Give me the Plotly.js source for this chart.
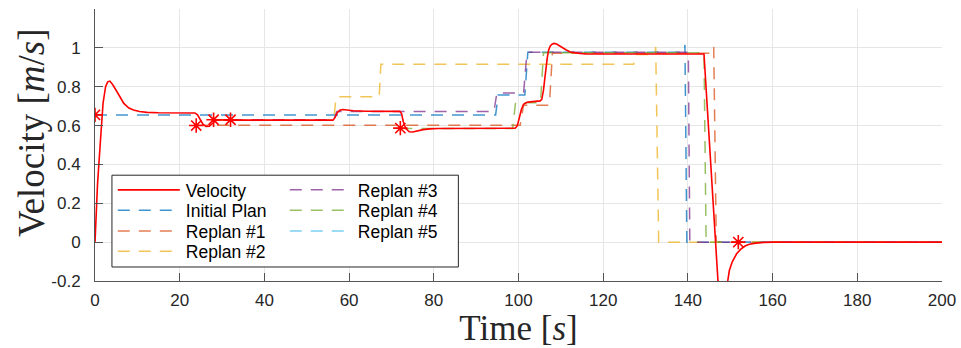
<!DOCTYPE html>
<html><head><meta charset="utf-8">
<script src="https://cdn.plot.ly/plotly-3.0.1.min.js"></script>
<style>html,body{margin:0;padding:0;background:#fff}#chart{width:961px;height:348px}</style>
</head><body><div id="chart"></div>
<script>
// ---- data ----
const velT = [0,0.6,1.25,1.9,2.5,3.0,3.5,4.2,5.2,6.0,6.8,8.0,9.1,10.5,12.3,15,23.6,24.2,24.8,25.5,26.2,27,27.8,28.5,29.5,31,56.2,56.7,57.2,57.8,58.5,59.5,61,64,72.0,72.4,72.8,73.4,74.2,75,76,77.5,79,81,99.2,99.7,100.2,100.7,101.2,102,102.8,104,105.1,105.5,105.9,106.2,106.5,106.8,107.1,107.5,108,108.4,109,110.2,111.2,112.2,113.3,114.5,116,120,143.8,147.1,147.9,148.7,149.4,149.8,150.5,151.5,152.5,153.5,154.5,156,158,160,200];
const velV = [0,0.3,0.51,0.715,0.80,0.825,0.829,0.81,0.774,0.742,0.714,0.69,0.68,0.672,0.668,0.666,0.665,0.655,0.632,0.607,0.595,0.597,0.612,0.626,0.630,0.628,0.628,0.642,0.666,0.679,0.683,0.680,0.676,0.674,0.673,0.66,0.62,0.585,0.568,0.567,0.572,0.579,0.583,0.585,0.586,0.598,0.64,0.684,0.71,0.72,0.722,0.725,0.727,0.735,0.782,0.84,0.902,0.95,0.988,1.01,1.02,1.023,1.02,1.002,0.99,0.979,0.974,0.971,0.969,0.968,0.968,-0.2,-0.3,-0.3,-0.2,-0.145,-0.1,-0.06,-0.036,-0.02,-0.011,-0.005,-0.001,0,0];

const initT = [0,94.6,95.2,101.5,102.2,139.1,139.3,139.75,200];
const initV = [0.655,0.655,0.757,0.757,0.977,0.977,1.015,0,0];

const r1T = [23.9,100.4,101.2,107.3,108.0,145.8,146.1,146.7,200];
const r1V = [0.602,0.602,0.705,0.705,0.972,0.972,1.005,0,0];

const r2T = [28.0,56.4,56.9,67.1,67.5,127.2,127.6,132.2,132.4,133.1,200];
const r2V = [0.628,0.628,0.748,0.748,0.916,0.916,0.966,0.966,1.005,0,0];

const r3T = [32.0,56.4,57.1,94.2,94.9,101.2,102.0,140.1,140.45,200];
const r3V = [0.63,0.63,0.673,0.673,0.768,0.768,0.977,0.977,0,0];

const r4T = [72.1,98.6,99.3,105.2,105.9,143.8,144.3,200];
const r4V = [0.585,0.585,0.717,0.717,0.975,0.975,0,0];

const r5T = [151.9,200];
const r5V = [0,0];

const starT = [0,23.9,28.0,32.0,72.1,151.9];
const starV = [0.655,0.60,0.63,0.63,0.587,0];

const xTicks = [0,20,40,60,80,100,120,140,160,180,200];
const xTickText = ['0','20','40','60','80','100','120','140','160','180','200'];
const yTicks = [-0.2,0,0.2,0.4,0.6,0.8,1];
const yTickText = ['-0.2','0','0.2','0.4','0.6','0.8','1'];

const names = ['Velocity','Initial Plan','Replan #1','Replan #2','Replan #3','Replan #4','Replan #5'];
const colors = ['#FF0000','#0072BD','#D95319','#EDB120','#7E2F8E','#77AC30','#4DBEEE'];

// ---- traces ----
const dash = '12px,9px';
function plan(x, y, i, leg, rank){
  return {x:x, y:y, type:'scatter', mode:'lines', name:names[i],
    line:{color:colors[i], width:1.5, dash:dash}, opacity:0.75,
    legend:leg, legendrank:rank, hoverinfo:'skip'};
}
// legend rows: row1 Velocity | Replan #3, row2 Initial | Replan #4, row3 Replan #1 | Replan #5, row4 Replan #2
const traces = [
  plan(initT, initV, 1, 'legend2', 1),
  plan(r1T, r1V, 2, 'legend3', 1),
  plan(r2T, r2V, 3, 'legend4', 1),
  plan(r3T, r3V, 4, 'legend', 2),
  plan(r4T, r4V, 5, 'legend2', 2),
  plan(r5T, r5V, 6, 'legend3', 2),
  {x:velT, y:velV, type:'scatter', mode:'lines', name:names[0],
   line:{color:colors[0], width:1.6}, legend:'legend', legendrank:1},
  {x:starT, y:starV, type:'scatter', mode:'markers', showlegend:false,
   marker:{symbol:'asterisk-open', size:12, color:'#FF0000', line:{color:'#FF0000', width:1.6}}}
];

const legFont = {family:'Liberation Sans, Arial, sans-serif', size:17.5, color:'#000'};
function leg(y){
  return {x:0.021, y:y, xanchor:'left', yanchor:'top', bgcolor:'rgba(0,0,0,0)', borderwidth:0,
    font:legFont, itemwidth:63, tracegroupgap:0, orientation:'h', entrywidth:94, entrywidthmode:'pixels'};
}
const layout = {
  width:961, height:348,
  margin:{l:95, r:19, t:9, b:67, pad:0},
  paper_bgcolor:'#ffffff', plot_bgcolor:'#ffffff',
  font:{family:'Liberation Sans, Arial, sans-serif', size:17, color:'#262626'},
  showlegend:true,
  xaxis:{range:[0,200], tickmode:'array', tickvals:xTicks, ticktext:xTickText,
    showgrid:true, gridcolor:'#e6e6e6', gridwidth:1, zeroline:false,
    showline:true, linecolor:'#555555', linewidth:1, ticks:'inside', ticklen:8, tickcolor:'#555555',
    ticklabelstandoff:4,
    title:{text:'Time [<i>s</i>]', font:{family:'Liberation Serif, Times New Roman, serif', size:35, color:'#262626'}, standoff:3}},
  yaxis:{range:[-0.2,1.2], tickmode:'array', tickvals:yTicks, ticktext:yTickText,
    showgrid:true, gridcolor:'#e6e6e6', gridwidth:1, zeroline:false,
    showline:true, linecolor:'#555555', linewidth:1, ticks:'inside', ticklen:8, tickcolor:'#555555',
    ticklabelstandoff:10},
  legend:leg(0.4008),
  legend2:leg(0.3254),
  legend3:leg(0.2500),
  legend4:leg(0.1747),
  annotations:[{text:'Velocity [<i>m</i>/<i>s</i>]', textangle:-90, xref:'paper', yref:'paper',
    x:-0.0755, y:0.544, xanchor:'center', yanchor:'middle', showarrow:false,
    font:{family:'Liberation Serif, Times New Roman, serif', size:37, color:'#262626'}}],
  shapes:[{type:'rect', xref:'paper', yref:'paper', x0:0.02, x1:0.429, y0:0.0515, y1:0.389,
    line:{color:'#262626', width:1}, fillcolor:'#ffffff', layer:'above'}]
};

Plotly.newPlot('chart', traces, layout, {displayModeBar:false, staticPlot:true}).then(function(gd){
  try {
    gd.querySelectorAll('.legendlines path').forEach(function(p){ p.setAttribute('d','M5,0h62'); });
  } catch(e) {}
});
</script>
</body></html>
